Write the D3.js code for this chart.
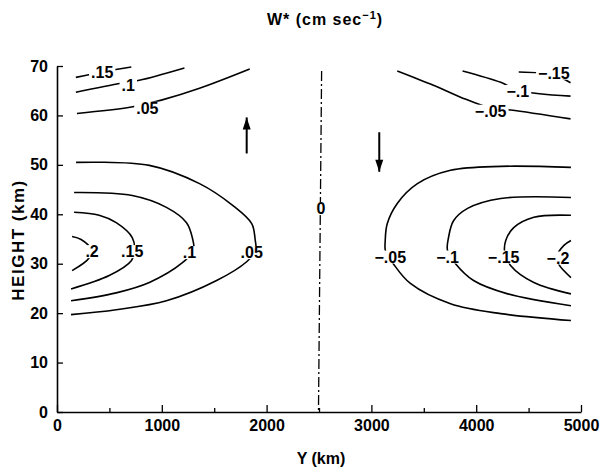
<!DOCTYPE html>
<html>
<head>
<meta charset="utf-8">
<script src="https://cdn.jsdelivr.net/npm/d3@7"></script>
<style>
  body { margin: 0; background: #fff; }
  text { font-family: "Liberation Sans", Arial, sans-serif; font-weight: bold; fill: #000; }
</style>
</head>
<body>
<div id="chart"></div>
<script>
// tick values
var xTicks = [0, 1000, 2000, 3000, 4000, 5000];
var xMinorTicks = [500, 1500, 2500, 3500, 4500];
var yTicks = [0, 10, 20, 30, 40, 50, 60, 70];

// contour lines, [Y km, height km]
var posTop15 = [[180, 67.7], [431, 68.8], [709, 69.8]];
var posTop10 = [[180, 64.7], [613, 66.5], [785, 67.1], [1216, 69.6]];
var posTop05 = [[190, 60.4], [709, 61.7], [996, 63.1], [1360, 65.5], [1839, 69.4]];

var negTop05 = [[3247, 69.0], [3592, 66.1], [3851, 63.7], [4138, 61.5], [4330, 61.1], [4900, 59.3]];
var negTop10 = [[3870, 69.0], [4234, 66.7], [4397, 65.1], [4900, 63.9]];
var negTop15 = [[4406, 68.8], [4741, 68.2], [4900, 66.6]];

var pos05 = [[182, 50.5], [881, 49.9], [1360, 46.2], [1676, 41.8], [1858, 38.1], [1890, 35.0],
             [1895, 32.6], [1810, 30.4], [1523, 26.6], [1044, 22.5], [565, 20.7], [134, 19.7]];
var pos10 = [[163, 44.4], [718, 43.8], [1044, 41.4], [1236, 38.3], [1293, 35.1],
             [1303, 32.7], [1197, 30.2], [881, 26.2], [565, 24.1], [134, 22.5]];
var pos15 = [[163, 40.4], [402, 39.8], [565, 38.3], [718, 35.3], [740, 32.9],
             [709, 30.6], [498, 27.6], [134, 24.9]];
var pos20 = [[144, 35.5], [230, 34.9], [320, 33.0], [307, 31.2], [144, 28.6]];

var neg05 = [[4904, 49.5], [4234, 49.7], [3755, 48.9], [3439, 46.2], [3247, 42.2], [3151, 38.1],
             [3132, 34.7], [3135, 32.5], [3209, 30.0], [3372, 26.0], [3755, 21.9], [4234, 19.9], [4904, 18.5]];
var neg10 = [[4904, 43.4], [4234, 43.2], [3918, 41.2], [3784, 38.7], [3736, 35.3],
             [3726, 32.7], [3803, 30.0], [3975, 26.6], [4301, 23.9], [4904, 21.5]];
var neg15 = [[4904, 39.8], [4550, 39.4], [4358, 37.3], [4282, 34.7], [4272, 32.3],
             [4330, 29.6], [4550, 26.2], [4904, 23.9]];
var neg20 = [[4904, 34.7], [4837, 33.7], [4770, 31.5], [4790, 29.8], [4904, 27.2]];

var zeroLine = [[2525, 69], [2495, 0.3]];

var contours = [posTop15, posTop10, posTop05, negTop05, negTop10, negTop15,
                pos05, pos10, pos15, pos20, neg05, neg10, neg15, neg20];

// contour labels [Y, height, text]
var labels = [
  [431, 68.8, ".15"], [680, 66.1, ".1"], [862, 61.5, ".05"],
  [4741, 68.6, "\u2212.15"], [4397, 64.9, "\u2212.1"], [4138, 60.9, "\u2212.05"],
  [335, 32.5, ".2"], [718, 32.5, ".15"], [1264, 32.3, ".1"], [1858, 32.3, ".05"],
  [2519, 41.2, "0"],
  [3180, 31.4, "\u2212.05"], [3726, 31.4, "\u2212.1"], [4262, 31.4, "\u2212.15"], [4780, 31.2, "\u2212.2"]
];

// arrows [Y, from height, to height]
var arrows = [[1810, 52.3, 59.6], [3075, 56.6, 48.6]];

var svgWidth = 600;
var svgHeight = 471;
var margin = { top: 66, right: 19, bottom: 59, left: 57 };
var width = svgWidth - margin.left - margin.right;
var height = svgHeight - margin.top - margin.bottom;

var svg = d3.select("#chart")
  .append("svg")
  .attr("width", svgWidth)
  .attr("height", svgHeight);

var chartGroup = svg.append("g")
  .attr("transform", "translate(" + margin.left + "," + margin.top + ")");

var xScale = d3.scaleLinear().domain([0, 5000]).range([0, width]);
var yScale = d3.scaleLinear().domain([0, 70]).range([height, 0]);

var line = d3.line()
  .x(function(d) { return xScale(d[0]); })
  .y(function(d) { return yScale(d[1]); })
  .curve(d3.curveCatmullRom.alpha(0.5));

// contours
chartGroup.selectAll(".contour")
  .data(contours)
  .enter()
  .append("path")
  .attr("class", "contour")
  .attr("d", line)
  .attr("fill", "none")
  .attr("stroke", "#000")
  .attr("stroke-width", 1.6);

// zero line, dash-dot
chartGroup.append("path")
  .attr("d", d3.line()
    .x(function(d) { return xScale(d[0]); })
    .y(function(d) { return yScale(d[1]); })(zeroLine))
  .attr("fill", "none")
  .attr("stroke", "#000")
  .attr("stroke-width", 1.3)
  .attr("stroke-dasharray", "10,3,2,3");

// labels with white box behind to break the lines
var labelGroup = chartGroup.selectAll(".clabel")
  .data(labels)
  .enter()
  .append("g")
  .attr("class", "clabel");

labelGroup.append("text")
  .attr("x", function(d) { return xScale(d[0]); })
  .attr("y", function(d) { return yScale(d[1]); })
  .attr("dy", "0.36em")
  .attr("text-anchor", "middle")
  .style("font-size", "16px")
  .text(function(d) { return d[2]; });

labelGroup.each(function() {
  var g = d3.select(this);
  var b = g.select("text").node().getBBox();
  g.insert("rect", "text")
    .attr("x", b.x - 2)
    .attr("y", b.y + 2)
    .attr("width", b.width + 4)
    .attr("height", b.height - 4)
    .attr("fill", "#fff");
});

// arrows
var arrowGroup = chartGroup.selectAll(".arrow")
  .data(arrows)
  .enter()
  .append("g")
  .attr("class", "arrow");

arrowGroup.append("line")
  .attr("x1", function(d) { return xScale(d[0]); })
  .attr("x2", function(d) { return xScale(d[0]); })
  .attr("y1", function(d) { return yScale(d[1]); })
  .attr("y2", function(d) { return yScale(d[2]); })
  .attr("stroke", "#000")
  .attr("stroke-width", 2);

arrowGroup.append("path")
  .attr("d", function(d) {
    var x = xScale(d[0]);
    var y = yScale(d[2]);
    var dir = d[2] > d[1] ? 1 : -1;
    return "M" + (x - 4) + "," + (y + dir * 12) + "L" + x + "," + y + "L" + (x + 4) + "," + (y + dir * 12) + "Z";
  })
  .attr("fill", "#000");

// axes
var bottomAxis = d3.axisBottom(xScale)
  .tickValues(xTicks)
  .tickFormat(d3.format("d"))
  .tickSize(-7)
  .tickSizeOuter(0)
  .tickPadding(8);

var minorAxis = d3.axisBottom(xScale)
  .tickValues(xMinorTicks)
  .tickSize(-4)
  .tickFormat("");

var leftAxis = d3.axisLeft(yScale)
  .tickValues(yTicks)
  .tickFormat(d3.format("d"))
  .tickSize(-6)
  .tickSizeOuter(0)
  .tickPadding(9);

var xAxisG = chartGroup.append("g")
  .attr("transform", "translate(0," + height + ")")
  .call(bottomAxis);

var minorG = chartGroup.append("g")
  .attr("transform", "translate(0," + height + ")")
  .call(minorAxis);
minorG.select(".domain").remove();

var yAxisG = chartGroup.append("g")
  .call(leftAxis);

svg.selectAll(".domain").attr("stroke-width", 1.6);
svg.selectAll(".tick line").attr("stroke-width", 1.3);
xAxisG.selectAll("text")
  .style("font-family", "'Liberation Sans', Arial, sans-serif")
  .style("font-weight", "bold")
  .style("font-size", "16px");
yAxisG.selectAll("text")
  .style("font-family", "'Liberation Sans', Arial, sans-serif")
  .style("font-weight", "bold")
  .style("font-size", "16px");

// titles
svg.append("text")
  .attr("x", 325)
  .attr("y", 25)
  .attr("text-anchor", "middle")
  .style("font-size", "16px")
  .style("letter-spacing", "1px")
  .html('W* (cm sec<tspan dy="-6" style="font-size:11px">\u22121</tspan><tspan dy="6">)</tspan>');

svg.append("text")
  .attr("transform", "translate(24,240) rotate(-90)")
  .attr("text-anchor", "middle")
  .style("font-size", "17px")
  .style("letter-spacing", "1.5px")
  .text("HEIGHT (km)");

svg.append("text")
  .attr("x", 321)
  .attr("y", 464)
  .attr("text-anchor", "middle")
  .style("font-size", "16px")
  .text("Y (km)");
</script>
</body>
</html>
